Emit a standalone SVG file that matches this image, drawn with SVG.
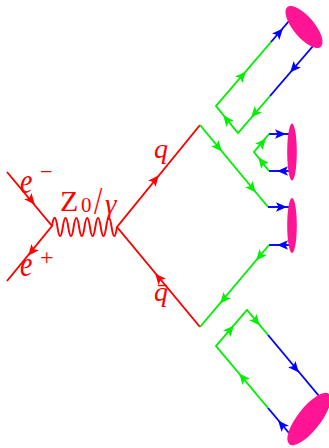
<svg xmlns="http://www.w3.org/2000/svg" xmlns:xlink="http://www.w3.org/1999/xlink" width="329" height="448" viewBox="0 0 329 448">
<style>
.r{stroke:#ff0000;stroke-width:1.9;fill:none}
.g{stroke:#00f000;stroke-width:1.9;fill:none}
.b{stroke:#0000ff;stroke-width:1.9;fill:none}
.ar{fill:#ff0000}
.ag{fill:#00f000}
.ab{fill:#0000ff}
.h{fill:#ff1493}
.lab{font-family:"Liberation Serif",serif;fill:#ff0000}
.it{font-style:italic}
</style>
<defs>
<path id="ah" d="M6,0 L-5,-4.8 L-2.5,0 L-5,4.8 Z"/>
</defs>
<g id="connectors">
<path class="r" d="M7,172 L52,226 L7,281"/>
<use href="#ah" class="ar" transform="translate(31,200) rotate(50)"/>
<use href="#ah" class="ar" transform="translate(32,251) rotate(129)"/>
<path class="r" d="M52,226 Q54.71,209 57.42,227 Q60.13,245 62.83,227 Q65.54,209 68.25,227 Q70.96,245 73.67,227 Q76.38,209 79.08,227 Q81.79,245 84.5,227 Q87.21,209 89.92,227 Q92.63,245 95.33,227 Q98.04,209 100.75,227 Q103.46,245 106.17,227 Q108.88,209 111.58,227 Q114.29,245 117,227"/>
<path class="r" d="M200,125 L117,227 L200,327"/>
<use href="#ah" class="ar" transform="translate(155,180) rotate(-51)"/>
<use href="#ah" class="ar" transform="translate(159,278) rotate(-130)"/>
<path class="g" d="M200,125 L268,207"/>
<path class="b" d="M268,207 L290,207"/>
<use href="#ah" class="ag" transform="translate(218,147) rotate(50)"/>
<use href="#ah" class="ag" transform="translate(252,188) rotate(50)"/>
<use href="#ah" class="ab" transform="translate(281,207)"/>
<path class="g" d="M200,327 L269,245"/>
<path class="b" d="M269,245 L290,245"/>
<use href="#ah" class="ag" transform="translate(260,256) rotate(130)"/>
<use href="#ah" class="ag" transform="translate(224,299) rotate(130)"/>
<use href="#ah" class="ab" transform="translate(283,245) rotate(180)"/>
<path class="g" d="M271,42 L216,106 L238,133 L270,96"/>
<path class="b" d="M271,42 L289,21"/>
<path class="b" d="M270,96 L313,46"/>
<use href="#ah" class="ag" transform="translate(242,76) rotate(-49)"/>
<use href="#ah" class="ab" transform="translate(279,33) rotate(-49)"/>
<use href="#ah" class="ab" transform="translate(294,68) rotate(131)"/>
<use href="#ah" class="ag" transform="translate(255,113) rotate(131)"/>
<use href="#ah" class="ag" transform="translate(227,120) rotate(-129)"/>
<path class="b" d="M269,134 L290,134"/>
<path class="g" d="M269,134 L254,152 L269,171"/>
<path class="b" d="M269,171 L290,171"/>
<use href="#ah" class="ab" transform="translate(280,134)"/>
<use href="#ah" class="ab" transform="translate(283,171) rotate(180)"/>
<use href="#ah" class="ag" transform="translate(262,143) rotate(-50)"/>
<use href="#ah" class="ag" transform="translate(262,162) rotate(-128)"/>
<path class="g" d="M268,408 L216,346 L247,310 L268,335"/>
<path class="b" d="M268,408 L289,433"/>
<path class="b" d="M268,335 L319,396"/>
<use href="#ah" class="ag" transform="translate(230,330) rotate(-49)"/>
<use href="#ah" class="ag" transform="translate(256,321) rotate(50)"/>
<use href="#ah" class="ab" transform="translate(295,368) rotate(50)"/>
<use href="#ah" class="ag" transform="translate(243,378) rotate(-130)"/>
<use href="#ah" class="ab" transform="translate(282,425) rotate(-130)"/>
</g>
<g id="hadron1"><ellipse class="h" cx="0" cy="0" rx="26" ry="10.5" transform="translate(304,27) rotate(50)"/></g>
<g id="hadron2"><ellipse class="h" cx="292" cy="152" rx="4.8" ry="28.5"/></g>
<g id="hadron3"><ellipse class="h" cx="292" cy="225.5" rx="4.8" ry="27.5"/></g>
<g id="hadron4"><ellipse class="h" cx="0" cy="0" rx="32" ry="11.5" transform="translate(309,419) rotate(-52)"/></g>
<g id="label-eminus">
<text class="lab it" font-size="28" transform="translate(20,193) scale(1,1.3)">e</text>
<text class="lab" font-size="22" x="40" y="179">−</text>
</g>
<g id="label-eplus">
<text class="lab it" font-size="28" transform="translate(20,276) scale(1,1.3)">e</text>
<text class="lab" font-size="24" x="40" y="265">+</text>
</g>
<g id="label-boson">
<text class="lab" font-size="30" x="60" y="211">Z</text>
<text class="lab" font-size="21" x="81" y="212">0</text>
<text class="lab" font-size="30" transform="translate(94,214) scale(1,1.3)">/</text>
<text class="lab it" font-size="29" x="105" y="214">γ</text>
</g>
<g id="label-q">
<text class="lab it" font-size="28" x="154" y="158">q</text>
</g>
<g id="label-qbar">
<text class="lab it" font-size="28" x="154" y="301">q̄</text>
</g>
</svg>
